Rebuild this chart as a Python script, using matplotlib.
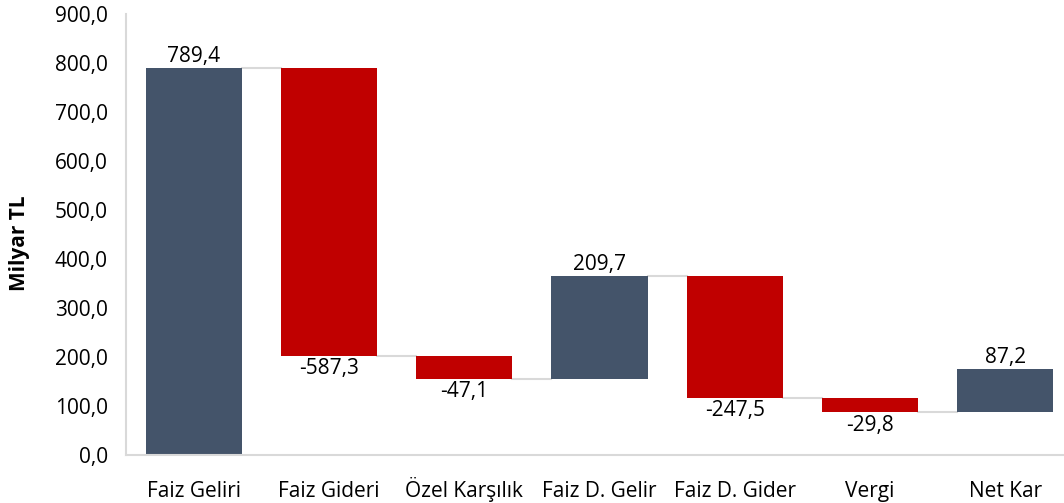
import matplotlib
matplotlib.use("Agg")
import matplotlib.pyplot as plt

categories = ["Faiz Geliri", "Faiz Gideri", "Özel Karşılık", "Faiz D. Gelir",
              "Faiz D. Gider", "Vergi", "Net Kar"]
values = [789.4, -587.3, -47.1, 209.7, -247.5, -29.8, 87.2]
yticks = [0, 100, 200, 300, 400, 500, 600, 700, 800, 900]

blue = "#44546A"
red = "#C00000"
grey = "#D9D9D9"

plt.rcParams["font.family"] = ["Open Sans", "DejaVu Sans"]

fig = plt.figure(figsize=(10.64, 5.03), dpi=100)
ax = fig.add_axes([126 / 1064, 48 / 503, 947 / 1064, 441 / 503])

# running totals: each bar starts where the previous ended
bottoms = []
total = 0.0
for v in values:
    bottoms.append(total)
    total += v

width = 0.71
fs = 15
for i, (b, v) in enumerate(zip(bottoms, values)):
    color = blue if v > 0 else red
    ax.bar(i, v, bottom=b, width=width, color=color, zorder=2)
    top = b + v
    lab = f"{v:.1f}".replace(".", ",")
    if v > 0:
        ax.text(i, top + 2, lab, ha="center", va="bottom", fontsize=fs)
    else:
        ax.text(i, top - 5, lab, ha="center", va="top", fontsize=fs)
    if i < len(values) - 1:
        ax.plot([i + width / 2, i + 1 - width / 2], [top, top], color=grey, lw=1.5, zorder=1)

ax.set_xlim(-0.5, len(categories) - 0.5)
ax.set_ylim(0, 900)
ax.set_yticks(yticks)
ax.set_yticklabels([f"{t:.1f}".replace(".", ",") for t in yticks], fontsize=fs)
ax.set_xticks(range(len(categories)))
ax.set_xticklabels(categories, fontsize=fs, va="baseline")
ax.tick_params(axis="y", length=0, pad=13)
ax.tick_params(axis="x", length=0, pad=30)
ax.set_ylabel("Milyar TL", fontsize=15, fontweight="bold")
ax.yaxis.set_label_coords(-96 / 947, 0.48)

for s in ["top", "right"]:
    ax.spines[s].set_visible(False)
for s in ["left", "bottom"]:
    ax.spines[s].set_color(grey)
    ax.spines[s].set_linewidth(1.5)

fig.savefig("out.png", dpi=100)
